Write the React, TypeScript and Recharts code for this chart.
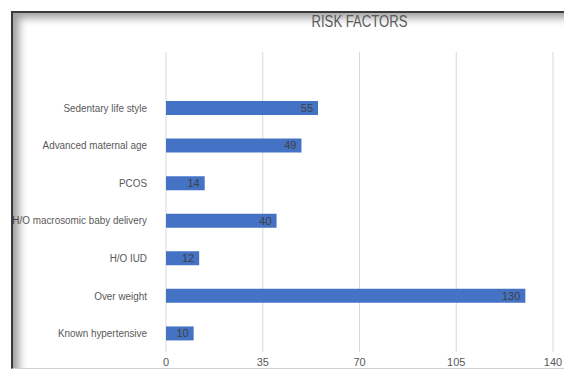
import React from 'react';
import {
  BarChart,
  Bar,
  XAxis,
  YAxis,
  CartesianGrid,
  LabelList,
} from 'recharts';

const factors = [
  'Sedentary life style',
  'Advanced maternal age',
  'PCOS',
  'H/O macrosomic baby delivery',
  'H/O IUD',
  'Over weight',
  'Known hypertensive',
];
const counts = [55, 49, 14, 40, 12, 130, 10];
const xTicks = [0, 35, 70, 105, 140];

const data = factors.map((name, i) => ({ name, count: counts[i] }));

const FONT = '"Liberation Sans", Arial, sans-serif';

// condensed category label, right-aligned against the plot
function FactorTick({ x, y, payload }: any) {
  return (
    <g transform={`translate(${x},${y})`}>
      <text
        transform="scale(0.9,1)"
        textAnchor="end"
        dy="0.355em"
        fontSize={11}
        fill="#595959"
        fontFamily={FONT}
      >
        {payload.value}
      </text>
    </g>
  );
}

export default function App() {
  return (
    <div style={{ position: 'relative', width: 564, height: 369, background: '#fff', overflow: 'hidden' }}>
      <style>{`body{margin:0}`}</style>
      {/* chart frame with inner shadow on the top and left edges */}
      <div
        style={{
          position: 'absolute',
          left: 11,
          top: 11,
          width: 551,
          height: 355,
          borderTop: '2px solid #3a3a3a',
          borderLeft: '2px solid #3a3a3a',
          borderRight: '1px solid #d0d0d0',
          borderBottom: '1px solid #d0d0d0',
          boxShadow: 'inset 8px 7px 8px -2px rgba(0,0,0,0.38)',
          pointerEvents: 'none',
          zIndex: 2,
        }}
      />
      <div
        style={{
          position: 'absolute',
          left: 166,
          width: 387,
          top: 12,
          textAlign: 'center',
          fontFamily: FONT,
          fontSize: 16,
          lineHeight: '20px',
          color: '#595959',
          transform: 'scaleX(0.82)',
          zIndex: 3,
        }}
      >
        RISK FACTORS
      </div>
      <div style={{ position: 'absolute', left: 0, top: 0 }}>
        <BarChart
          width={564}
          height={369}
          data={data}
          layout="vertical"
          margin={{ top: 52, right: 11, left: 0, bottom: 0 }}
          barCategoryGap={0}
        >
          <CartesianGrid horizontal={false} stroke="#d9d9d9" />
          <XAxis
            type="number"
            domain={[0, 140]}
            ticks={xTicks}
            axisLine={false}
            tickLine={false}
            tickSize={0}
            tickMargin={6}
            height={17}
            tick={{ fontSize: 11, fill: '#595959', fontFamily: FONT }}
          />
          <YAxis
            type="category"
            dataKey="name"
            width={166}
            padding={{ top: 37, bottom: 0 }}
            axisLine={false}
            tickLine={false}
            tickSize={0}
            tickMargin={19}
            interval={0}
            tick={<FactorTick />}
          />
          <Bar dataKey="count" fill="#4472c4" barSize={14} isAnimationActive={false}>
            <LabelList
              dataKey="count"
              position="insideRight"
              offset={5}
              style={{ fontSize: 11, fill: '#404040', fontFamily: FONT }}
            />
          </Bar>
        </BarChart>
      </div>
    </div>
  );
}
